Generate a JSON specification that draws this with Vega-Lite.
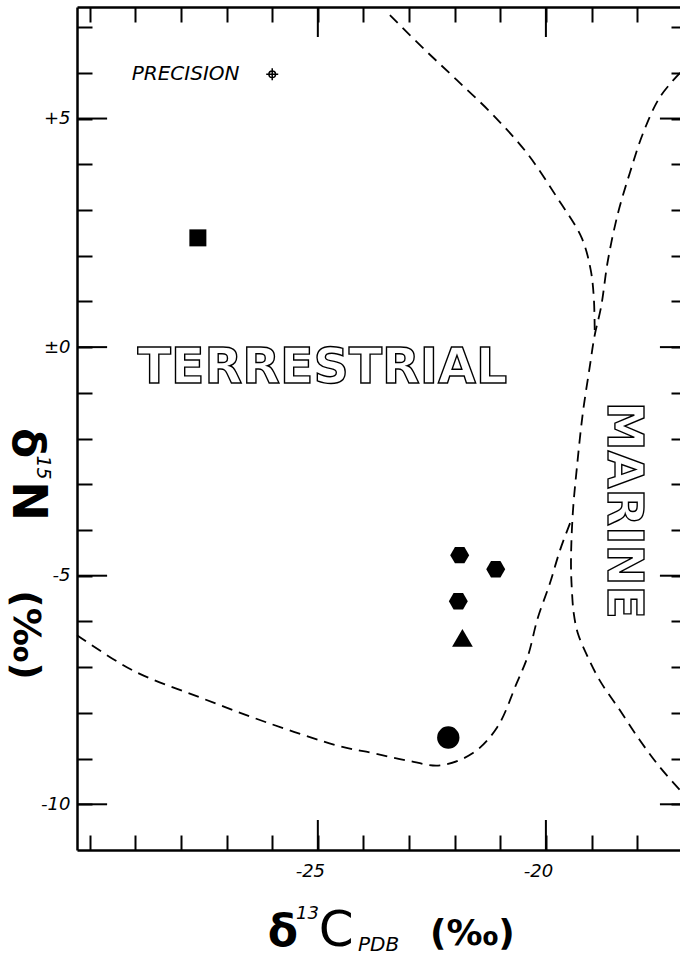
{
  "$schema": "https://vega.github.io/schema/vega-lite/v6.json",
  "width": 603,
  "height": 843,
  "autosize": {"type": "none"},
  "padding": {"left": 77, "top": 7, "right": 0, "bottom": 108},
  "background": "white",
  "config": {
    "view": {"stroke": null},
    "axis": {
      "grid": false,
      "domainColor": "black",
      "domainWidth": 2.5,
      "tickColor": "black",
      "tickWidth": 2,
      "labelColor": "black",
      "labelFont": "DejaVu Sans",
      "labelFontStyle": "italic",
      "labelFontSize": 18,
      "labelOverlap": false,
      "labelBound": false,
      "labelFlush": false
    }
  },
  "datasets": {
    "curves": [
      {"series": "T1", "ord": 1, "d13C": -23.42, "d15N": 7.26},
      {"series": "T1", "ord": 2, "d13C": -22.65, "d15N": 6.50},
      {"series": "T1", "ord": 3, "d13C": -21.95, "d15N": 5.84},
      {"series": "T1", "ord": 4, "d13C": -21.16, "d15N": 5.08},
      {"series": "T1", "ord": 5, "d13C": -20.42, "d15N": 4.25},
      {"series": "T1", "ord": 6, "d13C": -19.76, "d15N": 3.28},
      {"series": "T1", "ord": 7, "d13C": -19.22, "d15N": 2.40},
      {"series": "T1", "ord": 8, "d13C": -19.02, "d15N": 1.70},
      {"series": "T1", "ord": 9, "d13C": -18.95, "d15N": 1.09},
      {"series": "T1", "ord": 10, "d13C": -18.93, "d15N": 0.37},
      {"series": "M", "ord": 1, "d13C": -17.06, "d15N": 6.00},
      {"series": "M", "ord": 2, "d13C": -17.50, "d15N": 5.47},
      {"series": "M", "ord": 3, "d13C": -17.87, "d15N": 4.68},
      {"series": "M", "ord": 4, "d13C": -18.16, "d15N": 3.81},
      {"series": "M", "ord": 5, "d13C": -18.42, "d15N": 2.93},
      {"series": "M", "ord": 6, "d13C": -18.64, "d15N": 1.90},
      {"series": "M", "ord": 7, "d13C": -18.79, "d15N": 0.88},
      {"series": "M", "ord": 8, "d13C": -18.93, "d15N": 0.26},
      {"series": "M", "ord": 9, "d13C": -19.04, "d15N": -0.44},
      {"series": "M", "ord": 10, "d13C": -19.19, "d15N": -1.44},
      {"series": "M", "ord": 11, "d13C": -19.32, "d15N": -2.63},
      {"series": "M", "ord": 12, "d13C": -19.41, "d15N": -3.63},
      {"series": "M", "ord": 13, "d13C": -19.45, "d15N": -4.70},
      {"series": "M", "ord": 14, "d13C": -19.43, "d15N": -5.32},
      {"series": "M", "ord": 15, "d13C": -19.39, "d15N": -5.82},
      {"series": "M", "ord": 16, "d13C": -19.30, "d15N": -6.26},
      {"series": "M", "ord": 17, "d13C": -19.10, "d15N": -6.74},
      {"series": "M", "ord": 18, "d13C": -18.82, "d15N": -7.29},
      {"series": "M", "ord": 19, "d13C": -18.38, "d15N": -7.94},
      {"series": "M", "ord": 20, "d13C": -17.94, "d15N": -8.60},
      {"series": "M", "ord": 21, "d13C": -17.50, "d15N": -9.19},
      {"series": "M", "ord": 22, "d13C": -17.06, "d15N": -9.69},
      {"series": "T2", "ord": 1, "d13C": -19.47, "d15N": -3.85},
      {"series": "T2", "ord": 2, "d13C": -19.69, "d15N": -4.44},
      {"series": "T2", "ord": 3, "d13C": -19.91, "d15N": -5.16},
      {"series": "T2", "ord": 4, "d13C": -20.18, "d15N": -5.93},
      {"series": "T2", "ord": 5, "d13C": -20.39, "d15N": -6.74},
      {"series": "T2", "ord": 6, "d13C": -20.64, "d15N": -7.35},
      {"series": "T2", "ord": 7, "d13C": -21.07, "d15N": -8.32},
      {"series": "T2", "ord": 8, "d13C": -21.60, "d15N": -8.88},
      {"series": "T2", "ord": 9, "d13C": -22.32, "d15N": -9.15},
      {"series": "T2", "ord": 10, "d13C": -23.05, "d15N": -9.04},
      {"series": "T2", "ord": 11, "d13C": -23.79, "d15N": -8.88},
      {"series": "T2", "ord": 12, "d13C": -24.52, "d15N": -8.73},
      {"series": "T2", "ord": 13, "d13C": -26.12, "d15N": -8.21},
      {"series": "T2", "ord": 14, "d13C": -27.59, "d15N": -7.66},
      {"series": "T2", "ord": 15, "d13C": -29.06, "d15N": -7.07},
      {"series": "T2", "ord": 16, "d13C": -30.28, "d15N": -6.30}
    ],
    "samples": [
      {"group": "A", "d13C": -27.63, "d15N": 2.39},
      {"group": "B", "d13C": -21.89, "d15N": -4.55},
      {"group": "B", "d13C": -21.10, "d15N": -4.86},
      {"group": "B", "d13C": -21.92, "d15N": -5.56},
      {"group": "C", "d13C": -21.83, "d15N": -6.36},
      {"group": "D", "d13C": -22.14, "d15N": -8.54}
    ],
    "precision": [{"d13C": -26.0, "d15N": 5.97}],
    "xmajor": [{"v": -25}, {"v": -20}],
    "ymajor": [{"v": -10}, {"v": -5}, {"v": 0}, {"v": 5}]
  },
  "layer": [
    {
      "data": {"name": "curves"},
      "mark": {"type": "line", "color": "black", "strokeWidth": 1.8, "strokeDash": [11, 7], "interpolate": "catmull-rom"},
      "encoding": {
        "x": {"field": "d13C", "type": "quantitative", "scale": {"domain": [-30.28, -17.06], "nice": false, "zero": false},
          "axis": {"orient": "bottom", "title": null, "values": [-30, -29, -28, -27, -26, -25, -24, -23, -22, -21, -20, -19, -18],
            "tickSize": -15, "labelPadding": 27, "labelOffset": -8, "labelBaseline": "top",
            "labelExpr": "datum.value % 5 === 0 && datum.value > -30 ? '-' + abs(datum.value) : ''"}},
        "y": {"field": "d15N", "type": "quantitative", "scale": {"domain": [-11, 7.44], "nice": false, "zero": false},
          "axis": {"orient": "left", "title": null, "values": [-10, -9, -8, -7, -6, -5, -4, -3, -2, -1, 0, 1, 2, 3, 4, 5, 6, 7],
            "tickSize": -15, "labelPadding": 22,
            "labelExpr": "datum.value % 5 === 0 ? (datum.value > 0 ? '+' + datum.value : (datum.value === 0 ? '±0' : '-' + abs(datum.value))) : ''"}},
        "detail": {"field": "series"},
        "order": {"field": "ord", "type": "quantitative"}
      }
    },
    {
      "data": {"name": "samples"},
      "mark": {"type": "point", "filled": true, "color": "black", "opacity": 1},
      "encoding": {
        "x": {"field": "d13C", "type": "quantitative", "scale": {"domain": [-30.28, -17.06], "nice": false, "zero": false},
          "axis": {"orient": "top", "title": null, "labels": false, "values": [-30, -29, -28, -27, -26, -25, -24, -23, -22, -21, -20, -19, -18], "tickSize": -15}},
        "y": {"field": "d15N", "type": "quantitative", "scale": {"domain": [-11, 7.44], "nice": false, "zero": false},
          "axis": {"orient": "right", "title": null, "labels": false, "domain": false, "values": [-10, -9, -8, -7, -6, -5, -4, -3, -2, -1, 0, 1, 2, 3, 4, 5, 6, 7], "tickSize": -9}},
        "shape": {"field": "group", "type": "nominal", "legend": null,
          "scale": {"domain": ["A", "B", "C", "D"], "range": ["square", "M-1,0L-0.5,-0.866L0.5,-0.866L1,0L0.5,0.866L-0.5,0.866Z", "triangle-up", "circle"]}},
        "size": {"field": "group", "type": "nominal", "legend": null,
          "scale": {"domain": ["A", "B", "C", "D"], "range": [289, 500, 650, 400]}}
      }
    },
    {
      "data": {"name": "xmajor"},
      "mark": {"type": "rule", "color": "black", "strokeWidth": 2},
      "encoding": {
        "x": {"field": "v", "type": "quantitative", "scale": {"domain": [-30.28, -17.06], "nice": false, "zero": false}, "axis": null},
        "y": {"datum": -11, "type": "quantitative", "scale": {"domain": [-11, 7.44], "nice": false, "zero": false}, "axis": null},
        "y2": {"datum": -10.344}
      }
    },
    {
      "data": {"name": "xmajor"},
      "mark": {"type": "rule", "color": "black", "strokeWidth": 2},
      "encoding": {
        "x": {"field": "v", "type": "quantitative", "scale": {"domain": [-30.28, -17.06], "nice": false, "zero": false}, "axis": null},
        "y": {"datum": 7.44, "type": "quantitative", "scale": {"domain": [-11, 7.44], "nice": false, "zero": false}, "axis": null},
        "y2": {"datum": 6.784}
      }
    },
    {
      "data": {"name": "ymajor"},
      "mark": {"type": "rule", "color": "black", "strokeWidth": 2},
      "encoding": {
        "y": {"field": "v", "type": "quantitative", "scale": {"domain": [-11, 7.44], "nice": false, "zero": false}, "axis": null},
        "x": {"datum": -30.28, "type": "quantitative", "scale": {"domain": [-30.28, -17.06], "nice": false, "zero": false}, "axis": null},
        "x2": {"datum": -29.62}
      }
    },
    {
      "data": {"name": "ymajor"},
      "mark": {"type": "rule", "color": "black", "strokeWidth": 2},
      "encoding": {
        "y": {"field": "v", "type": "quantitative", "scale": {"domain": [-11, 7.44], "nice": false, "zero": false}, "axis": null},
        "x": {"datum": -17.06, "type": "quantitative", "scale": {"domain": [-30.28, -17.06], "nice": false, "zero": false}, "axis": null},
        "x2": {"datum": -17.50}
      }
    },
    {
      "data": {"name": "precision"},
      "mark": {"type": "point", "filled": false, "color": "black", "strokeWidth": 1.5, "opacity": 1, "size": 144,
        "shape": "M-1,0L1,0M0,-1L0,1M0.55,0A0.55,0.55,0,1,1,-0.55,0A0.55,0.55,0,1,1,0.55,0Z"},
      "encoding": {
        "x": {"field": "d13C", "type": "quantitative", "scale": {"domain": [-30.28, -17.06], "nice": false, "zero": false}, "axis": null},
        "y": {"field": "d15N", "type": "quantitative", "scale": {"domain": [-11, 7.44], "nice": false, "zero": false}, "axis": null}
      }
    },
    {
      "data": {"values": [{}]},
      "mark": {"type": "text", "font": "DejaVu Sans", "fontStyle": "italic", "fontSize": 20, "align": "left", "baseline": "alphabetic", "color": "black"},
      "encoding": {
        "x": {"datum": -29.08, "type": "quantitative", "scale": {"domain": [-30.28, -17.06], "nice": false, "zero": false}, "axis": null},
        "y": {"datum": 5.84, "type": "quantitative", "scale": {"domain": [-11, 7.44], "nice": false, "zero": false}, "axis": null},
        "text": {"value": "PRECISION"}
      }
    },
    {
      "data": {"values": [{}]},
      "mark": {"type": "text", "font": "DejaVu Sans", "fontWeight": "bold", "fontSize": 49, "align": "center", "baseline": "alphabetic", "fill": "white", "stroke": "black", "strokeWidth": 1.4},
      "encoding": {
        "x": {"datum": -24.9, "type": "quantitative", "scale": {"domain": [-30.28, -17.06], "nice": false, "zero": false}, "axis": null},
        "y": {"datum": -0.79, "type": "quantitative", "scale": {"domain": [-11, 7.44], "nice": false, "zero": false}, "axis": null},
        "text": {"value": "TERRESTRIAL"}
      }
    },
    {
      "data": {"values": [{}]},
      "mark": {"type": "text", "font": "DejaVu Sans", "fontWeight": "bold", "fontSize": 49, "angle": 90, "align": "center", "baseline": "alphabetic", "fill": "white", "stroke": "black", "strokeWidth": 1.4},
      "encoding": {
        "x": {"datum": -18.64, "type": "quantitative", "scale": {"domain": [-30.28, -17.06], "nice": false, "zero": false}, "axis": null},
        "y": {"datum": -3.57, "type": "quantitative", "scale": {"domain": [-11, 7.44], "nice": false, "zero": false}, "axis": null},
        "text": {"value": "MARINE"}
      }
    },
    {
      "data": {"values": [{}]},
      "mark": {"type": "text", "font": "DejaVu Sans", "fontWeight": "bold", "fontSize": 44, "align": "left", "baseline": "alphabetic", "color": "black", "dy": 96},
      "encoding": {
        "x": {"datum": -26.1, "type": "quantitative", "scale": {"domain": [-30.28, -17.06], "nice": false, "zero": false}, "axis": null},
        "y": {"datum": -11, "type": "quantitative", "scale": {"domain": [-11, 7.44], "nice": false, "zero": false}, "axis": null},
        "text": {"value": "δ"}
      }
    },
    {
      "data": {"values": [{}]},
      "mark": {"type": "text", "font": "DejaVu Sans", "fontStyle": "italic", "fontSize": 18, "align": "left", "baseline": "alphabetic", "color": "black", "dy": 69},
      "encoding": {
        "x": {"datum": -25.48, "type": "quantitative", "scale": {"domain": [-30.28, -17.06], "nice": false, "zero": false}, "axis": null},
        "y": {"datum": -11, "type": "quantitative", "scale": {"domain": [-11, 7.44], "nice": false, "zero": false}, "axis": null},
        "text": {"value": "13"}
      }
    },
    {
      "data": {"values": [{}]},
      "mark": {"type": "text", "font": "DejaVu Sans", "fontSize": 50, "align": "left", "baseline": "alphabetic", "color": "black", "dy": 96},
      "encoding": {
        "x": {"datum": -24.98, "type": "quantitative", "scale": {"domain": [-30.28, -17.06], "nice": false, "zero": false}, "axis": null},
        "y": {"datum": -11, "type": "quantitative", "scale": {"domain": [-11, 7.44], "nice": false, "zero": false}, "axis": null},
        "text": {"value": "C"}
      }
    },
    {
      "data": {"values": [{}]},
      "mark": {"type": "text", "font": "DejaVu Sans", "fontStyle": "italic", "fontSize": 20, "align": "left", "baseline": "alphabetic", "color": "black", "dy": 101},
      "encoding": {
        "x": {"datum": -24.12, "type": "quantitative", "scale": {"domain": [-30.28, -17.06], "nice": false, "zero": false}, "axis": null},
        "y": {"datum": -11, "type": "quantitative", "scale": {"domain": [-11, 7.44], "nice": false, "zero": false}, "axis": null},
        "text": {"value": "PDB"}
      }
    },
    {
      "data": {"values": [{}]},
      "mark": {"type": "text", "font": "DejaVu Sans", "fontWeight": "bold", "fontSize": 36, "align": "left", "baseline": "alphabetic", "color": "black", "dy": 95},
      "encoding": {
        "x": {"datum": -22.54, "type": "quantitative", "scale": {"domain": [-30.28, -17.06], "nice": false, "zero": false}, "axis": null},
        "y": {"datum": -11, "type": "quantitative", "scale": {"domain": [-11, 7.44], "nice": false, "zero": false}, "axis": null},
        "text": {"value": "(‰)"}
      }
    },
    {
      "data": {"values": [{}]},
      "mark": {"type": "text", "font": "DejaVu Sans", "fontWeight": "bold", "fontSize": 44, "angle": 90, "align": "left", "baseline": "alphabetic", "color": "black", "dy": 64},
      "encoding": {
        "x": {"datum": -30.28, "type": "quantitative", "scale": {"domain": [-30.28, -17.06], "nice": false, "zero": false}, "axis": null},
        "y": {"datum": -1.77, "type": "quantitative", "scale": {"domain": [-11, 7.44], "nice": false, "zero": false}, "axis": null},
        "text": {"value": "δ"}
      }
    },
    {
      "data": {"values": [{}]},
      "mark": {"type": "text", "font": "DejaVu Sans", "fontStyle": "italic", "fontSize": 19, "angle": 90, "align": "left", "baseline": "alphabetic", "color": "black", "dy": 40},
      "encoding": {
        "x": {"datum": -30.28, "type": "quantitative", "scale": {"domain": [-30.28, -17.06], "nice": false, "zero": false}, "axis": null},
        "y": {"datum": -2.37, "type": "quantitative", "scale": {"domain": [-11, 7.44], "nice": false, "zero": false}, "axis": null},
        "text": {"value": "15"}
      }
    },
    {
      "data": {"values": [{}]},
      "mark": {"type": "text", "font": "DejaVu Sans", "fontWeight": "bold", "fontSize": 48, "angle": 90, "align": "left", "baseline": "alphabetic", "color": "black", "dy": 64},
      "encoding": {
        "x": {"datum": -30.28, "type": "quantitative", "scale": {"domain": [-30.28, -17.06], "nice": false, "zero": false}, "axis": null},
        "y": {"datum": -2.93, "type": "quantitative", "scale": {"domain": [-11, 7.44], "nice": false, "zero": false}, "axis": null},
        "text": {"value": "N"}
      }
    },
    {
      "data": {"values": [{}]},
      "mark": {"type": "text", "font": "DejaVu Sans", "fontWeight": "bold", "fontSize": 38, "angle": 90, "align": "left", "baseline": "alphabetic", "color": "black", "dy": 63},
      "encoding": {
        "x": {"datum": -30.28, "type": "quantitative", "scale": {"domain": [-30.28, -17.06], "nice": false, "zero": false}, "axis": null},
        "y": {"datum": -5.32, "type": "quantitative", "scale": {"domain": [-11, 7.44], "nice": false, "zero": false}, "axis": null},
        "text": {"value": "(‰)"}
      }
    }
  ],
  "resolve": {"axis": {"x": "independent", "y": "independent"}}
}
